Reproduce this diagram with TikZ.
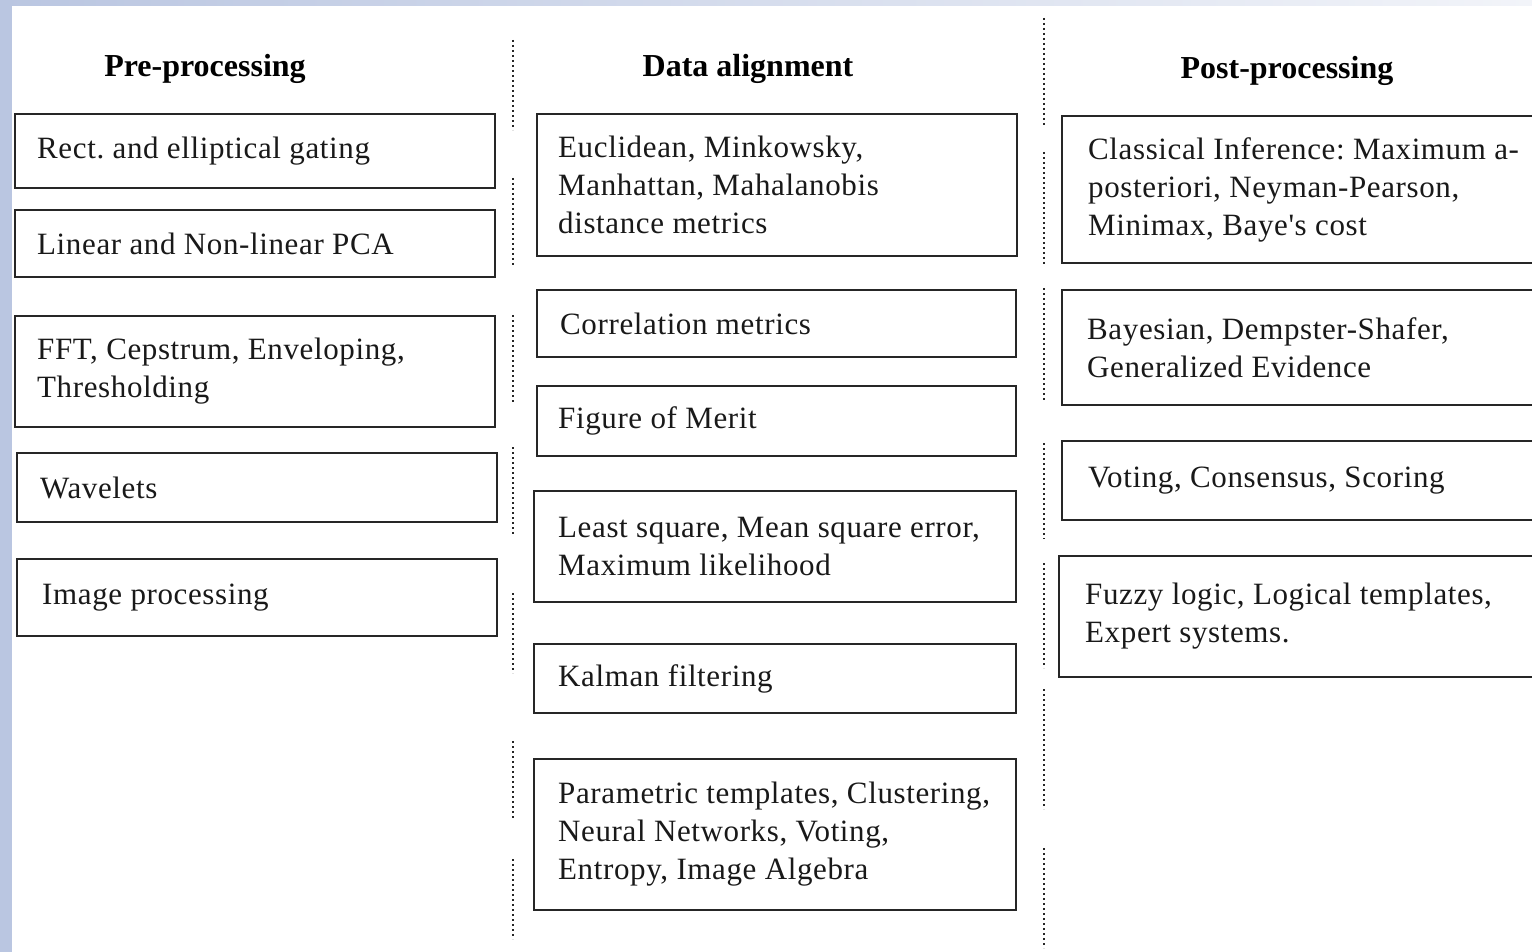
\documentclass[tikz,border=0pt]{standalone}
\usepackage{fontspec}
\setmainfont{Liberation Serif}
\newfontfamily\boxfont[LetterSpace=2]{Liberation Serif}
\usetikzlibrary{fit}
\frenchspacing
\definecolor{bluebar}{HTML}{BAC6E1}
\definecolor{bluefade}{HTML}{F2F4F9}
\tikzset{
  boxline/.style={draw=black!85, line width=1.7pt, inner sep=0pt, outer sep=0pt},
  txt/.style={font=\boxfont\fontsize{31}{38}\selectfont\frenchspacing, align=left, inner sep=0pt, anchor=west, text=black!90},
  head/.style={font=\bfseries\fontsize{32}{38}\selectfont, inner sep=0pt, text=black},
  sep/.style={draw=black!85, line width=1.8pt, dash pattern=on 1.6pt off 3.4pt}
}
\newcommand\mybox[7]{%
  \node[boxline, fit={(#2,#3) (#4,#5)}] (#1) {};
  \node[txt] (#1t) at (#6,{(#3+#5)/2}) {#7};}
\begin{document}
\begin{tikzpicture}[x=1pt,y=-1pt]
\useasboundingbox (0,0) rectangle (1532,952);
\clip (0,0) rectangle (1532,952);
\fill[white] (0,0) rectangle (1532,952);
\shade[left color=bluebar, right color=bluefade] (0,0) rectangle (1532,6);
\fill[bluebar] (0,0) rectangle (12,952);

% headers
\node[head] (h1) at (205,69) {Pre-processing};
\node[head] (h2) at (748,69) {Data alignment};
\node[head] (h3) at (1287,71) {Post-processing};

% separators
\foreach \a/\b in {40/130,178/267,315/403,447/536,593/673,741/819,859/939}
  \draw[sep] (513,\a) -- (513,\b);
\foreach \a/\b in {18/127,152/265,288/400,443/539,563/668,689/809,848/948}
  \draw[sep] (1044,\a) -- (1044,\b);

% pre-processing
\mybox{p1}{15}{114}{495}{188}{37}{Rect.\ and elliptical gating}
\mybox{p2}{15}{210}{495}{277}{37}{Linear and Non-linear PCA}
\mybox{p3}{15}{316}{495}{427}{37}{FFT, Cepstrum, Enveloping,\\Thresholding}
\mybox{p4}{17}{453}{497}{522}{40}{Wavelets}
\mybox{p5}{17}{559}{497}{636}{42}{Image processing}

% data alignment
\mybox{d1}{537}{114}{1017}{256}{558}{Euclidean, Minkowsky,\\Manhattan, Mahalanobis\\distance metrics}
\mybox{d2}{537}{290}{1016}{357}{560}{Correlation metrics}
\mybox{d3}{537}{386}{1016}{456}{558}{Figure of Merit}
\mybox{d4}{534}{491}{1016}{602}{558}{Least square, Mean square error,\\Maximum likelihood}
\mybox{d5}{534}{644}{1016}{713}{558}{Kalman filtering}
\mybox{d6}{534}{759}{1016}{910}{558}{Parametric templates, Clustering,\\Neural Networks, Voting,\\Entropy, Image Algebra}

% post-processing
\mybox{q1}{1062}{116}{1600}{263}{1088}{Classical Inference: Maximum a-\\posteriori, Neyman-Pearson,\\Minimax, Baye's cost}
\mybox{q2}{1062}{290}{1600}{405}{1087}{Bayesian, Dempster-Shafer,\\Generalized Evidence}
\mybox{q3}{1062}{441}{1600}{520}{1088}{Voting, Consensus, Scoring}
\mybox{q4}{1059}{556}{1600}{677}{1085}{Fuzzy logic, Logical templates,\\Expert systems.}
\end{tikzpicture}
\end{document}
